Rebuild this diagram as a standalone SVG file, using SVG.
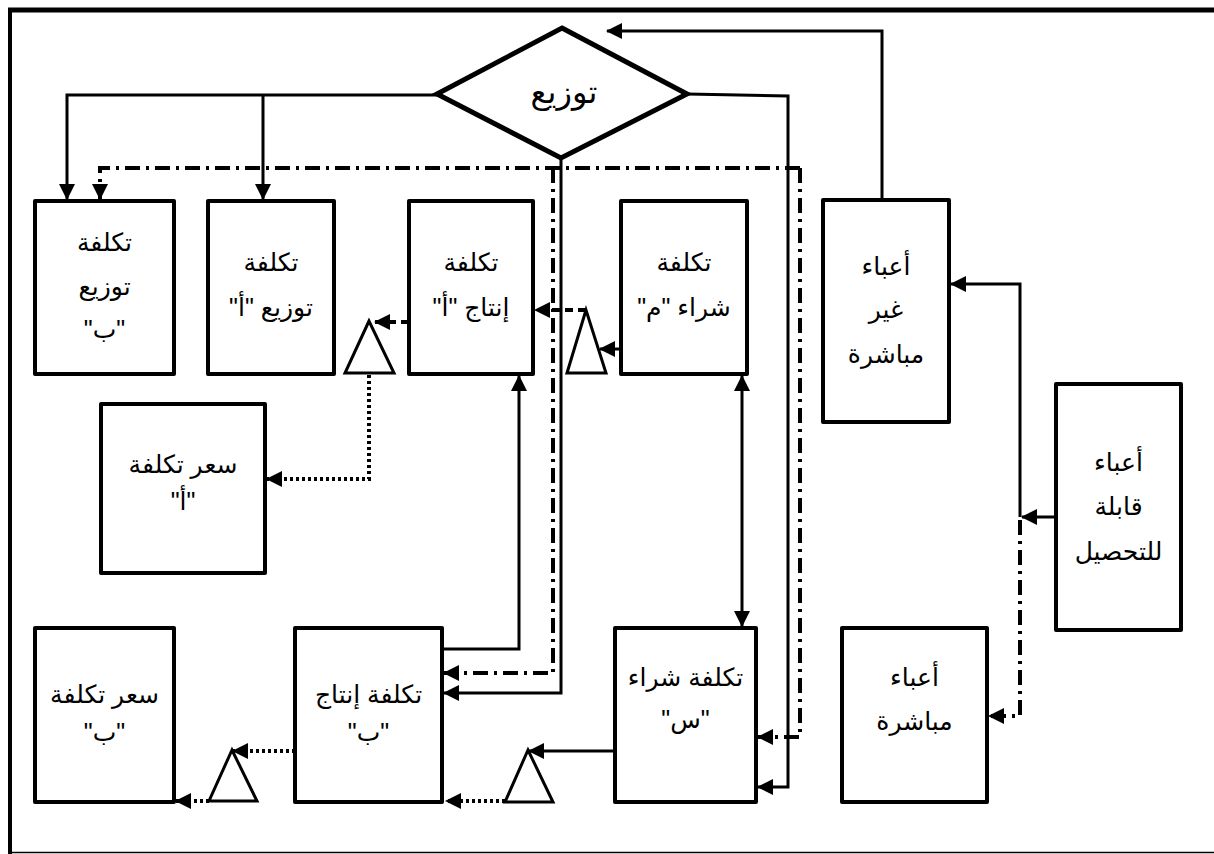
<svg xmlns="http://www.w3.org/2000/svg" width="1214" height="854" viewBox="0 0 1214 854">
<style>
.box{fill:#fff;stroke:#000;stroke-width:4;stroke-linejoin:round}
.tri{fill:#fff;stroke:#000;stroke-width:3;stroke-linejoin:miter}
.t{font-family:"Liberation Sans","DejaVu Sans",sans-serif;font-size:25px;fill:#000;text-anchor:middle;direction:rtl}
.s{fill:none;stroke:#000;stroke-width:3}
.dd{fill:none;stroke:#000;stroke-width:4;stroke-dasharray:15 6 3 6}
.dt{fill:none;stroke:#000;stroke-width:4;stroke-dasharray:3 3}
.ds{fill:none;stroke:#000;stroke-width:4;stroke-dasharray:8 5}
</style>
<defs>
<marker id="a" markerUnits="userSpaceOnUse" markerWidth="17" markerHeight="17" refX="15" refY="8" orient="auto" viewBox="0 0 17 17">
<path d="M0,0 L16,8 L0,16 z" fill="#000"/>
</marker>
<marker id="as" markerUnits="userSpaceOnUse" markerWidth="17" markerHeight="17" refX="1" refY="8" orient="auto" viewBox="0 0 17 17">
<path d="M16,0 L0,8 L16,16 z" fill="#000"/>
</marker>
</defs>
<rect width="1214" height="854" fill="#fff"/>
<g id="frame">
<path d="M8,10 H1214" stroke="#000" stroke-width="5"/>
<path d="M10,8 V854" stroke="#000" stroke-width="4"/>
<path d="M10,852.5 H1214" stroke="#000" stroke-width="1.5"/>
</g>
<g id="connectors">
<path class="s" d="M437,95 H67 V199" marker-end="url(#a)"/>
<path class="s" d="M263,95 V199" marker-end="url(#a)"/>
<path class="s" d="M687,94 L788,96 V787 H758" marker-end="url(#a)"/>
<path class="s" d="M882,200 V31 H607" marker-end="url(#a)"/>
<path class="dd" d="M800,168 H100 V199" marker-end="url(#a)"/>
<path class="dd" d="M800,168 V737 H758" marker-end="url(#a)"/>
<path class="dd" d="M553,168 V673 H444" marker-end="url(#a)"/>
<path class="s" d="M561,158 V693 H444" marker-end="url(#a)"/>
<path class="s" d="M442,649 H519 V376" marker-end="url(#a)"/>
<path class="s" d="M742,376 V626" marker-start="url(#as)" marker-end="url(#a)"/>
<path class="s" d="M621,349 H600" marker-end="url(#a)"/>
<path class="ds" d="M586,310 H535" marker-end="url(#a)"/>
<path class="ds" d="M409,322 H375" marker-end="url(#a)"/>
<path class="dt" d="M369,375 V479 H267" marker-end="url(#a)"/>
<path class="s" d="M615,751 H529" marker-end="url(#a)"/>
<path class="dt" d="M505,801 H446" marker-end="url(#a)"/>
<path class="dt" d="M295,751 H233" marker-end="url(#a)"/>
<path class="dt" d="M209,801 H176" marker-end="url(#a)"/>
<path class="s" d="M1056,517 H1022" marker-end="url(#a)"/>
<path class="s" d="M1020,517 V284 H951" marker-end="url(#a)"/>
<path class="dd" d="M1020,520 V716 H989" marker-end="url(#a)"/>
</g>
<g id="triangles">
<polygon class="tri" points="369,321 345,373 394,373"/>
<polygon class="tri" points="586,310 567,373 606,373"/>
<polygon class="tri" points="528,750 505,802 553,802"/>
<polygon class="tri" points="232,750 209,801 257,801"/>
</g>
<g id="n-tawzi">
<polygon points="562,28 687,94 561,158 437,94" fill="#fff" stroke="#000" stroke-width="5" stroke-linejoin="miter"/>
<text class="t" x="564" y="103" style="font-size:32px">توزيع</text>
</g>
<g id="n-tawzi-b">
<rect class="box" x="35" y="201" width="139" height="173"/>
<text class="t" x="104.5" y="251">تكلفة</text>
<text class="t" x="104.5" y="295">توزيع</text>
<text class="t" x="104.5" y="338">"ب"</text>
</g>
<g id="n-tawzi-a">
<rect class="box" x="208" y="201" width="126" height="173"/>
<text class="t" x="271" y="271">تكلفة</text>
<text class="t" x="271" y="316">توزيع "أ"</text>
</g>
<g id="n-intaj-a">
<rect class="box" x="409" y="201" width="124" height="173"/>
<text class="t" x="471" y="271">تكلفة</text>
<text class="t" x="471" y="316">إنتاج "أ"</text>
</g>
<g id="n-shira-m">
<rect class="box" x="621" y="201" width="126" height="173"/>
<text class="t" x="684" y="271">تكلفة</text>
<text class="t" x="684" y="316">شراء "م"</text>
</g>
<g id="n-ghayr">
<rect class="box" x="823" y="200" width="126" height="222"/>
<text class="t" x="886" y="275">أعباء</text>
<text class="t" x="886" y="318">غير</text>
<text class="t" x="886" y="363">مباشرة</text>
</g>
<g id="n-qabila">
<rect class="box" x="1056" y="384" width="125" height="246"/>
<text class="t" x="1118.5" y="471">أعباء</text>
<text class="t" x="1118.5" y="515">قابلة</text>
<text class="t" x="1118.5" y="560">للتحصيل</text>
</g>
<g id="n-sier-a">
<rect class="box" x="101" y="404" width="164" height="169"/>
<text class="t" x="183" y="473">سعر تكلفة</text>
<text class="t" x="183" y="510">"أ"</text>
</g>
<g id="n-sier-b">
<rect class="box" x="35" y="628" width="139" height="174"/>
<text class="t" x="104.5" y="703">سعر تكلفة</text>
<text class="t" x="104.5" y="741">"ب"</text>
</g>
<g id="n-intaj-b">
<rect class="box" x="295" y="628" width="147" height="174"/>
<text class="t" x="368.5" y="703">تكلفة إنتاج</text>
<text class="t" x="368.5" y="741">"ب"</text>
</g>
<g id="n-shira-s">
<rect class="box" x="615" y="628" width="141" height="174"/>
<text class="t" x="685.5" y="686">تكلفة شراء</text>
<text class="t" x="685.5" y="728">"س"</text>
</g>
<g id="n-mubashira">
<rect class="box" x="842" y="628" width="145" height="174"/>
<text class="t" x="914.5" y="686">أعباء</text>
<text class="t" x="914.5" y="730">مباشرة</text>
</g>
</svg>
